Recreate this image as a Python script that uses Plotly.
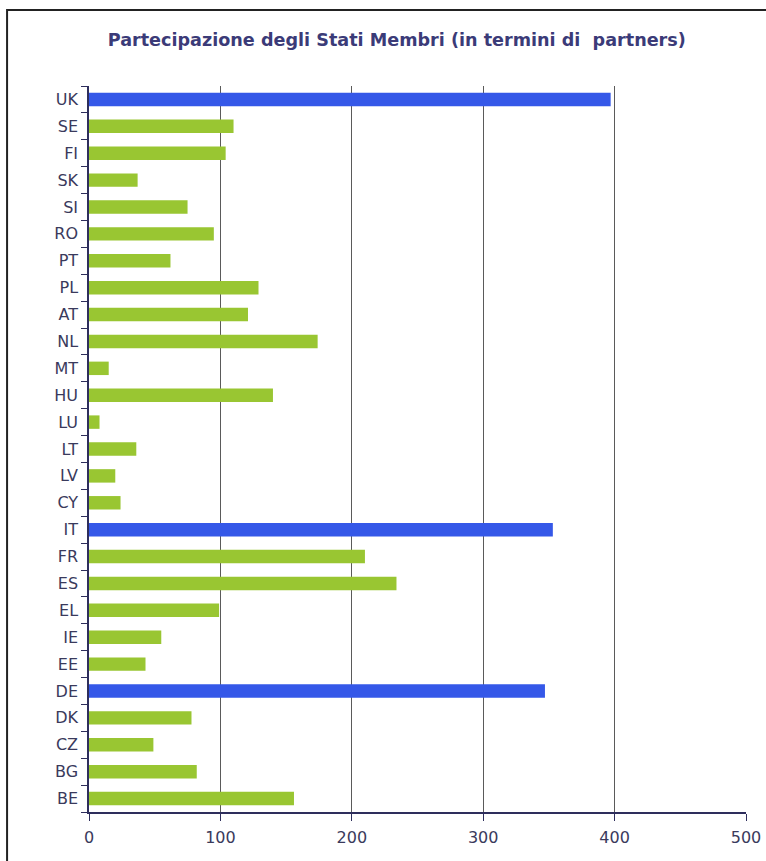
import plotly.graph_objects as go

# categories from bottom to top
paesi = ["BE", "BG", "CZ", "DK", "DE", "EE", "IE", "EL", "ES", "FR", "IT", "CY", "LV", "LT",
         "LU", "HU", "MT", "NL", "AT", "PL", "PT", "RO", "SI", "SK", "FI", "SE", "UK"]
partners = [156, 82, 49, 78, 347, 43, 55, 99, 234, 210, 353, 24, 20, 36,
            8, 140, 15, 174, 121, 129, 62, 95, 75, 37, 104, 110, 397]
evidenziati = ["UK", "IT", "DE"]

VERDE = "#99C632"
BLU = "#3558E8"
NAVY = "#2e2e5c"
colori = [BLU if p in evidenziati else VERDE for p in paesi]

fig = go.Figure(go.Bar(x=partners, y=paesi, orientation="h", width=0.5,
                       marker=dict(color=colori, line=dict(width=0))))

fig.update_layout(
    width=766, height=861,
    margin=dict(l=88.5, r=20, t=86, b=48.5, autoexpand=False),
    paper_bgcolor="white", plot_bgcolor="white",
    showlegend=False,
    font=dict(family="DejaVu Sans, sans-serif", color="#3a3a5c"),
    title=dict(text="<b>Partecipazione degli Stati Membri (in termini di  partners)</b>",
               x=0.518, xanchor="center", xref="container", y=0.954, yanchor="middle",
               font=dict(size=17.6, color="#3b3b78")),
)
fig.update_xaxes(range=[0, 500], tickvals=[0, 100, 200, 300, 400, 500],
                 showgrid=True, gridcolor="#5a5a5a", gridwidth=1,
                 showline=True, linecolor=NAVY, linewidth=1.5,
                 ticks="outside", ticklen=7, tickcolor=NAVY,
                 tickfont=dict(size=16), ticklabelstandoff=3,
                 zeroline=False, automargin=False, fixedrange=True)
fig.update_yaxes(showgrid=False, showline=True, linecolor=NAVY, linewidth=1.5,
                 ticks="outside", tickson="boundaries", ticklen=6, tickcolor=NAVY,
                 tickfont=dict(size=16), ticklabelstandoff=6,
                 automargin=False, fixedrange=True)

# cornice esterna
fig.add_shape(type="rect", xref="paper", yref="paper",
              x0=-0.1247, x1=1.06, y0=-0.09, y1=1.1046,
              line=dict(color="#222222", width=2))

# niente margine della pagina, così la figura occupa esattamente la finestra
fig.write_html("out.html", config={"displayModeBar": False},
               post_script="document.body.style.margin='0';")
